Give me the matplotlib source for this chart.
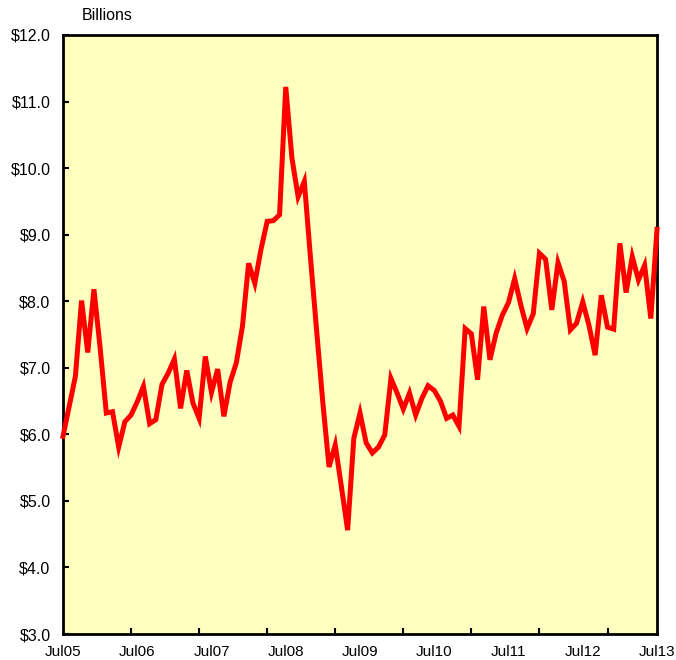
import matplotlib.pyplot as plt
import numpy as np

# monthly values, Jul 2005 .. Jul 2013 (billions of dollars)
values = [
    5.97, 6.42, 6.87, 8.01, 7.23, 8.18, 7.30, 6.32, 6.34, 5.81,
    6.19, 6.29, 6.49, 6.72, 6.16, 6.22, 6.75, 6.92, 7.13, 6.39,
    6.96, 6.47, 6.24, 7.17, 6.63, 6.98, 6.27, 6.78, 7.07, 7.62,
    8.57, 8.27, 8.78, 9.20, 9.21, 9.30, 11.22, 10.15, 9.57, 9.80,
    8.65, 7.55, 6.47, 5.51, 5.84, 5.21, 4.56, 5.94, 6.32, 5.87,
    5.72, 5.81, 5.99, 6.84, 6.62, 6.38, 6.62, 6.29, 6.54, 6.73,
    6.66, 6.50, 6.24, 6.29, 6.12, 7.59, 7.51, 6.82, 7.92, 7.12,
    7.52, 7.79, 7.98, 8.34, 7.94, 7.59, 7.81, 8.72, 8.63, 7.87,
    8.58, 8.30, 7.57, 7.67, 7.99, 7.64, 7.19, 8.09, 7.61, 7.58,
    8.87, 8.13, 8.67, 8.32, 8.54, 7.74, 9.08,
]
x_labels = ["Jul05", "Jul06", "Jul07", "Jul08", "Jul09",
            "Jul10", "Jul11", "Jul12", "Jul13"]
y_ticks = [3, 4, 5, 6, 7, 8, 9, 10, 11, 12]

plt.rcParams['font.family'] = ['Liberation Sans', 'DejaVu Sans']

fig = plt.figure(figsize=(6.76, 6.6), dpi=100)
ax = fig.add_axes([63 / 676, 26 / 660, 594 / 676, 599 / 660])
ax.set_facecolor('#FFFFC0')

months = np.arange(len(values))
ax.plot(months, values, color='#FF0000', linewidth=3.6,
        solid_joinstyle='miter', clip_on=False, zorder=3)

ax.set_xlim(0, len(values) - 1)
ax.set_ylim(3, 12)

# labels every 12 months, tick marks every 11 categories (as in the source)
ax.set_xticks(np.arange(0, len(values), 12))
ax.set_xticklabels(x_labels)
ax.set_xticks(np.arange(11, len(values) - 1, 11), minor=True)
ax.tick_params(axis='x', which='major', length=0, pad=8, labelsize=11)
ax.tick_params(axis='x', which='minor', direction='in', length=4, width=1.5)

ax.set_yticks(y_ticks)
ax.set_yticklabels([f"${v:.1f}" for v in y_ticks])
ax.tick_params(axis='y', direction='in', length=4, width=1.5, pad=9,
               labelsize=11.5)

for s in ax.spines.values():
    s.set_linewidth(2)
    s.set_color('black')

fig.text(82 / 676, 1 - 16 / 660, "Billions", fontsize=11.5,
         ha='left', va='center')

fig.savefig('out.png', dpi=100, facecolor='white')
